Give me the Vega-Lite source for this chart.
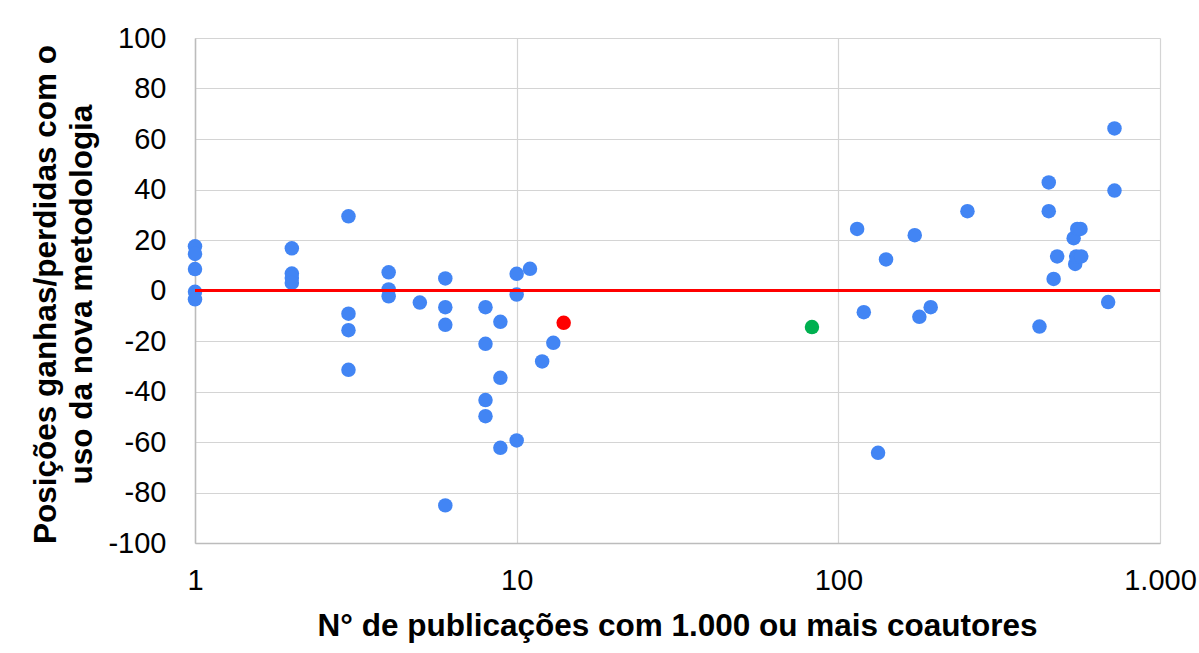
{
  "$schema": "https://vega.github.io/schema/vega-lite/v6.json",
  "width": 965,
  "height": 505,
  "autosize": {"type": "none"},
  "padding": {"left": 195, "top": 38, "right": 39, "bottom": 110},
  "background": "white",
  "config": {"font": "Liberation Sans", "view": {"stroke": null}},
  "data": {
    "values": [
      {"x": 1, "y": 17.5, "g": "a"},
      {"x": 1, "y": 14.5, "g": "a"},
      {"x": 1, "y": 8.5, "g": "a"},
      {"x": 1, "y": -0.5, "g": "a"},
      {"x": 1, "y": -3.5, "g": "a"},
      {"x": 2, "y": 16.7, "g": "a"},
      {"x": 2, "y": 6.7, "g": "a"},
      {"x": 2, "y": 5, "g": "a"},
      {"x": 2, "y": 3, "g": "a"},
      {"x": 3, "y": 29.4, "g": "a"},
      {"x": 3, "y": -9.2, "g": "a"},
      {"x": 3, "y": -15.7, "g": "a"},
      {"x": 3, "y": -31.4, "g": "a"},
      {"x": 4, "y": 7.2, "g": "a"},
      {"x": 4, "y": 0.4, "g": "a"},
      {"x": 4, "y": -2.3, "g": "a"},
      {"x": 5, "y": -4.8, "g": "a"},
      {"x": 6, "y": 4.8, "g": "a"},
      {"x": 6, "y": -6.6, "g": "a"},
      {"x": 6, "y": -13.6, "g": "a"},
      {"x": 6, "y": -85.1, "g": "a"},
      {"x": 8, "y": -6.6, "g": "a"},
      {"x": 8, "y": -21.1, "g": "a"},
      {"x": 8, "y": -43.4, "g": "a"},
      {"x": 8, "y": -49.8, "g": "a"},
      {"x": 8.9, "y": -12.4, "g": "a"},
      {"x": 8.9, "y": -34.6, "g": "a"},
      {"x": 8.9, "y": -62.3, "g": "a"},
      {"x": 10, "y": 6.6, "g": "a"},
      {"x": 10, "y": -1.6, "g": "a"},
      {"x": 10, "y": -59.4, "g": "a"},
      {"x": 11, "y": 8.6, "g": "a"},
      {"x": 12, "y": -28.1, "g": "a"},
      {"x": 13, "y": -20.7, "g": "a"},
      {"x": 14, "y": -12.8, "g": "r"},
      {"x": 82.8, "y": -14.5, "g": "v"},
      {"x": 114.4, "y": 24.4, "g": "a"},
      {"x": 120, "y": -8.6, "g": "a"},
      {"x": 132.9, "y": -64.3, "g": "a"},
      {"x": 140.7, "y": 12.3, "g": "a"},
      {"x": 172.8, "y": 21.9, "g": "a"},
      {"x": 178.6, "y": -10.4, "g": "a"},
      {"x": 193.7, "y": -6.6, "g": "a"},
      {"x": 252, "y": 31.4, "g": "a"},
      {"x": 422, "y": -14.3, "g": "a"},
      {"x": 451, "y": 42.8, "g": "a"},
      {"x": 451, "y": 31.4, "g": "a"},
      {"x": 467, "y": 4.6, "g": "a"},
      {"x": 479, "y": 13.5, "g": "a"},
      {"x": 539, "y": 20.7, "g": "a"},
      {"x": 545, "y": 10.5, "g": "a"},
      {"x": 549, "y": 13.5, "g": "a"},
      {"x": 553, "y": 24.4, "g": "a"},
      {"x": 566, "y": 24.4, "g": "a"},
      {"x": 569, "y": 13.5, "g": "a"},
      {"x": 690, "y": -4.6, "g": "a"},
      {"x": 722, "y": 64.2, "g": "a"},
      {"x": 722, "y": 39.6, "g": "a"}
    ]
  },
  "layer": [
    {
      "mark": {"type": "point", "filled": true, "opacity": 1, "shape": "circle", "size": 210},
      "encoding": {
        "x": {
          "field": "x",
          "type": "quantitative",
          "scale": {"type": "log", "domain": [1, 1000], "nice": false},
          "axis": {
            "title": "N° de publicações com 1.000 ou mais coautores",
            "values": [1, 10, 100, 1000],
            "labelExpr": "datum.value == 1000 ? '1.000' : datum.label",
            "ticks": false,
            "labelPadding": 23,
            "labelFontSize": 29,
            "labelColor": "#000000",
            "labelFlush": false,
            "labelOverlap": false,
            "labelBound": false,
            "titleFontSize": 31.5,
            "titleFontWeight": "bold",
            "titleColor": "#000000",
            "titleX": 482,
            "titleY": 92,
            "titleBaseline": "alphabetic",
            "titleAnchor": null,
            "titleAlign": "center",
            "gridColor": "#d4d4d4",
            "gridWidth": 1.2,
            "domainColor": "#bcbcbc",
            "domainWidth": 1.5
          }
        },
        "y": {
          "field": "y",
          "type": "quantitative",
          "scale": {"domain": [-100, 100], "nice": false},
          "axis": {
            "title": ["Posições ganhas/perdidas com o", "uso da nova metodologia"],
            "values": [-100, -80, -60, -40, -20, 0, 20, 40, 60, 80, 100],
            "labelExpr": "datum.value < 0 ? '-' + abs(datum.value) : '' + datum.value",
            "ticks": false,
            "labelPadding": 29,
            "labelFontSize": 29,
            "labelColor": "#000000",
            "labelFlush": false,
            "labelOverlap": false,
            "labelBound": false,
            "titleFontSize": 31.5,
            "titleFontWeight": "bold",
            "titleColor": "#000000",
            "titleLineHeight": 36,
            "titleX": -165,
            "titleY": 256,
            "titleBaseline": "top",
            "titleAlign": "center",
            "titleAnchor": null,
            "titleAngle": 270,
            "gridColor": "#d4d4d4",
            "gridWidth": 1.2,
            "domainColor": "#bcbcbc",
            "domainWidth": 1.5
          }
        },
        "color": {
          "field": "g",
          "type": "nominal",
          "scale": {"domain": ["a", "r", "v"], "range": ["#4285F4", "#FF0000", "#00B050"]},
          "legend": null
        }
      }
    },
    {
      "mark": {"type": "rule", "color": "#FF0000", "strokeWidth": 3},
      "encoding": {"y": {"datum": 0}}
    }
  ]
}
